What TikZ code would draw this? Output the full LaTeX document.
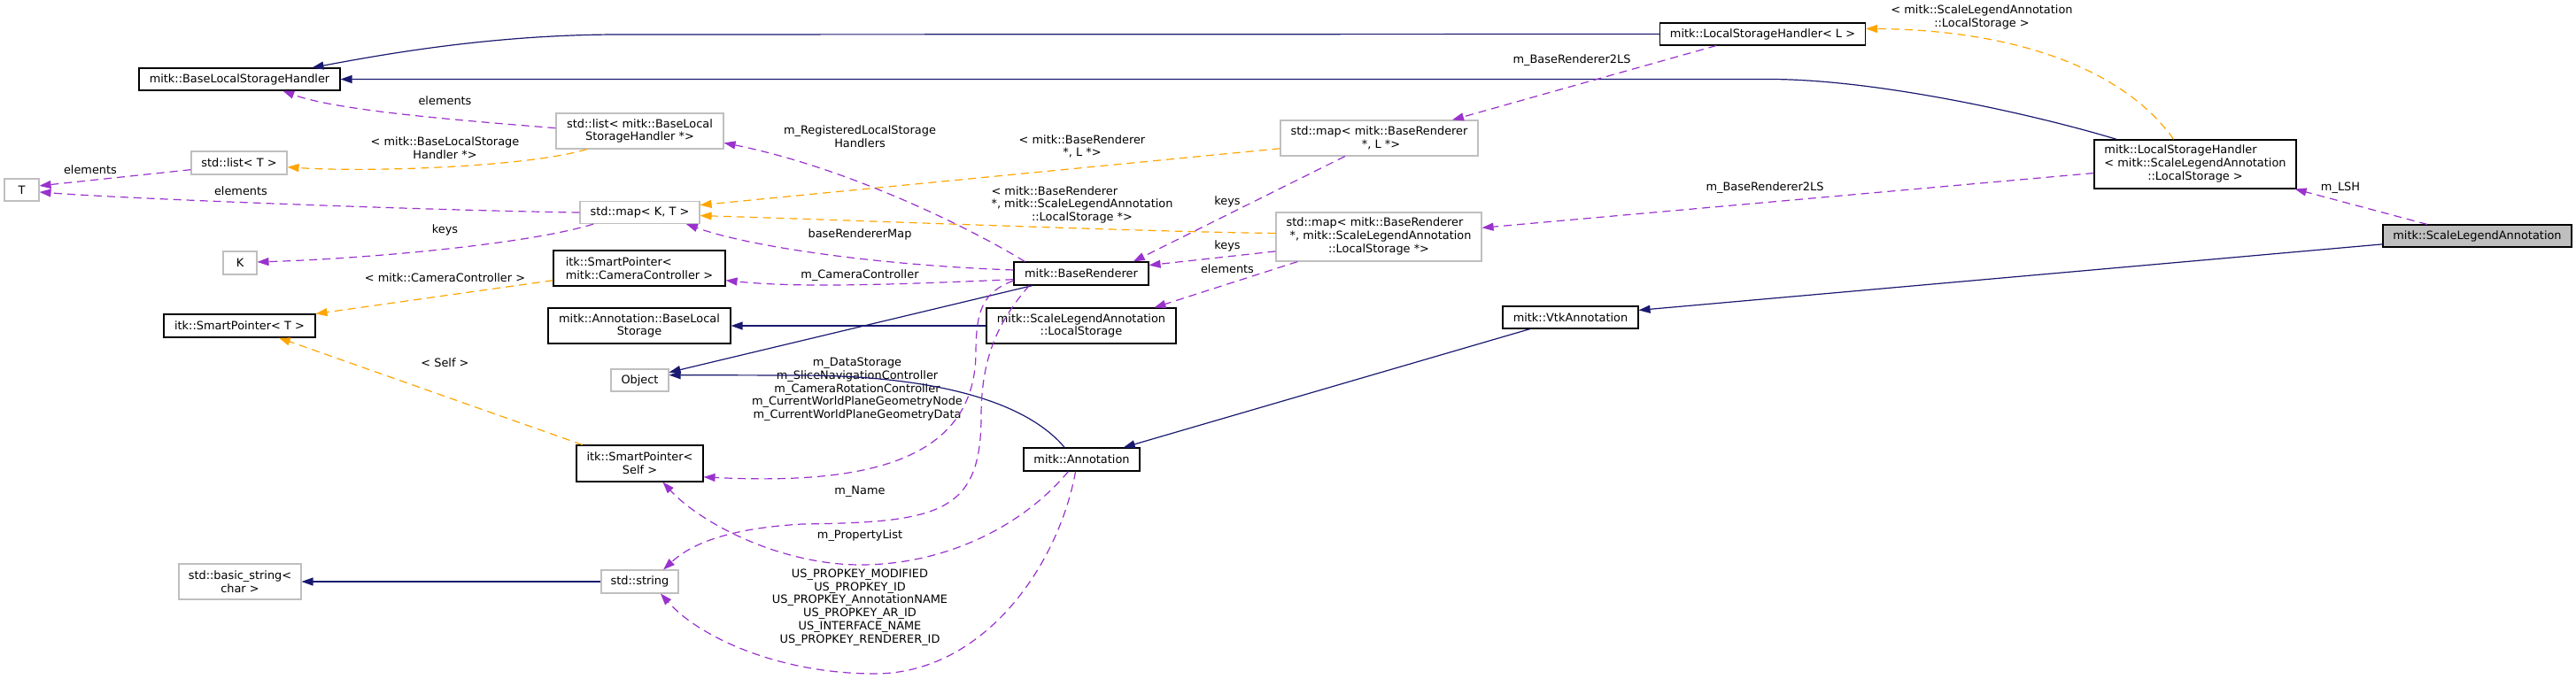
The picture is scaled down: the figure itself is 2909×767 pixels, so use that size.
\documentclass[tikz,border=0pt]{standalone}
\usepackage{fontspec}
\setmainfont{DejaVu Sans}
\usetikzlibrary{arrows.meta}
\definecolor{inhblue}{HTML}{191970}
\definecolor{usepurple}{HTML}{9A32CD}
\definecolor{tplorange}{HTML}{FFA500}
\definecolor{undocgray}{HTML}{BFBFBF}
\newcommand{\dxlast}[1]{\multicolumn{1}{@{}c@{}}{#1}}
\tikzset{
  cls/.style={draw=black,fill=white,line width=1.1pt,inner sep=0pt,align=center},
  ext/.style={cls,draw=undocgray},
  lbl/.style={inner sep=0pt,align=center},
  inh/.style={draw=inhblue,line width=1.2pt,-{Triangle[length=13pt,width=9pt]}},
  use/.style={draw=usepurple,line width=1.2pt,dash pattern=on 9pt off 6pt,-{Triangle[length=13pt,width=9pt]}},
  tpl/.style={use,draw=tplorange}
}
\begin{document}
\begin{tikzpicture}[x=1pt,y=-1pt,font={\fontsize{12.9}{14.7}\selectfont}]
\useasboundingbox[fill=white] (0,0) rectangle (2909,767);
% classes
\node [cls,minimum width=227pt,minimum height=25pt,name=blsh] at (270.5,89.5) {mitk::BaseLocalStorageHandler};
\node [cls,minimum width=232pt,minimum height=25pt,name=lshl] at (1990.5,38.5) {mitk::LocalStorageHandler< L >};
\node [ext,minimum width=189pt,minimum height=40pt,name=listblsh] at (722.5,148) {std::list< mitk::BaseLocal\\StorageHandler *>};
\node [ext,minimum width=108pt,minimum height=26pt,name=listt] at (270,184) {std::list< T >};
\node [ext,minimum width=39pt,minimum height=25pt,name=t] at (24.5,214.5) {T};
\node [ext,minimum width=135pt,minimum height=25pt,name=mapkt] at (722.5,240) {std::map< K, T >};
\node [ext,minimum width=38pt,minimum height=26pt,name=k] at (271,297) {K};
\node [cls,align=left,minimum width=194pt,minimum height=40pt,name=spcam] at (722,303) {itk::SmartPointer<\\ mitk::CameraController >};
\node [cls,minimum width=206pt,minimum height=40pt,name=annbls] at (722,368) {mitk::Annotation::BaseLocal\\Storage};
\node [cls,minimum width=171pt,minimum height=26pt,name=spt] at (270.5,368) {itk::SmartPointer< T >};
\node [ext,minimum width=65pt,minimum height=25pt,name=object] at (722.5,429.5) {Object};
\node [cls,minimum width=143pt,minimum height=41pt,name=spself] at (722.5,523.5) {itk::SmartPointer<\\Self >};
\node [ext,minimum width=87pt,minimum height=26pt,name=stdstring] at (722.5,657) {std::string};
\node [ext,minimum width=138pt,minimum height=40pt,name=basicstr] at (271,657) {std::basic\_string<\\char >};
\node [cls,minimum width=152pt,minimum height=26pt,name=br] at (1221,309) {mitk::BaseRenderer};
\node [cls,minimum width=214pt,minimum height=40pt,name=slals] at (1221,368) {mitk::ScaleLegendAnnotation\\::LocalStorage};
\node [cls,minimum width=131pt,minimum height=26pt,name=ann] at (1221.5,519) {mitk::Annotation};
\node [ext,minimum width=223pt,minimum height=40pt,name=mapbrl] at (1557.5,156) {std::map< mitk::BaseRenderer\\{} *, L *>};
\node [ext,minimum width=232pt,minimum height=55pt,name=mapbrls] at (1557,267.5) {\begin{tabular}{@{}l@{}}std::map< mitk::BaseRenderer\\{} *, mitk::ScaleLegendAnnotation\\\dxlast{::LocalStorage *>}\end{tabular}};
\node [cls,minimum width=153pt,minimum height=25pt,name=vtk] at (1773.5,358.5) {mitk::VtkAnnotation};
\node [cls,minimum width=228pt,minimum height=55pt,name=lsh] at (2479,185.5) {\begin{tabular}{@{}l@{}}mitk::LocalStorageHandler\\< mitk::ScaleLegendAnnotation\\\dxlast{::LocalStorage >}\end{tabular}};
\node [cls,fill=undocgray,minimum width=213pt,minimum height=25pt,name=sla] at (2797.5,266.5) {mitk::ScaleLegendAnnotation};
% edge labels
\node [lbl,name=lelema] at (502.5,114) {elements};
\node [lbl,name=ltpla] at (502.5,167) {< mitk::BaseLocalStorage\\Handler *>};
\node [lbl,name=lelemb] at (102,192) {elements};
\node [lbl,name=lelemc] at (272,216) {elements};
\node [lbl,name=lkeysa] at (502.5,260) {keys};
\node [lbl,name=ltplb] at (502.5,314) {< mitk::CameraController >};
\node [lbl,name=ltplc] at (502.5,410) {< Self >};
\node [lbl,name=lreg] at (971,154) {m\_RegisteredLocalStorage\\Handlers};
\node [lbl,name=ltpld] at (1222,165.5) {< mitk::BaseRenderer\\{}*, L *>};
\node [lbl,name=ltple] at (1222,232) {\begin{tabular}{@{}l@{}}< mitk::BaseRenderer\\{}*, mitk::ScaleLegendAnnotation\\\dxlast{::LocalStorage *>}\end{tabular}};
\node [lbl,name=lbrmap] at (971,265) {baseRendererMap};
\node [lbl,name=lcam] at (971,311) {m\_CameraController};
\node [lbl,name=lmembers] at (968,440) {m\_DataStorage\\m\_SliceNavigationController\\m\_CameraRotationController\\m\_CurrentWorldPlaneGeometryNode\\m\_CurrentWorldPlaneGeometryData};
\node [lbl,name=lname] at (971,555) {m\_Name};
\node [lbl,name=lprop] at (971,605) {m\_PropertyList};
\node [lbl,name=lpropkeys] at (971,686) {US\_PROPKEY\_MODIFIED\\US\_PROPKEY\_ID\\US\_PROPKEY\_AnnotationNAME\\US\_PROPKEY\_AR\_ID\\US\_INTERFACE\_NAME\\US\_PROPKEY\_RENDERER\_ID};
\node [lbl,name=lbrlsa] at (1775,68) {m\_BaseRenderer2LS};
\node [lbl,name=lkeysb] at (1386,228) {keys};
\node [lbl,name=lkeysc] at (1386,278) {keys};
\node [lbl,name=lelemd] at (1386,304) {elements};
\node [lbl,name=lbrlsb] at (1993,212) {m\_BaseRenderer2LS};
\node [lbl,name=ltplf] at (2238,19.5) {< mitk::ScaleLegendAnnotation\\::LocalStorage >};
\node [lbl,name=llsh] at (2643,212) {m\_LSH};
% inheritance
\draw[inh] (lshl.west) -- (700,39) .. controls (560,39) and (440,60) .. ([xshift=-32pt]blsh.north east);
\draw[inh] ([xshift=26pt]lsh.north west) .. controls (2300,130) and (2120,89.5) .. (1998,89.5) -- (blsh.east);
\draw[inh] ([xshift=-55pt]br.south) -- (object.15);
\draw[inh] (ann.145) .. controls (1160,455) and (1060,424) .. (900,424) -- (object.10);
\draw[inh] (slals.west) -- (annbls.east);
\draw[inh] (vtk.196) -- (ann.16);
\draw[inh] (sla.185) -- (vtk.6);
\draw[inh] (stdstring.west) -- (basicstr.east);
% templates
\draw[tpl] (listblsh.199) .. controls (600,188) and (420,195) .. (listt.-5);
\draw[tpl] (mapbrl.186) -- (mapkt.7);
\draw[tpl] (mapbrls.178) .. controls (1300,262) and (1000,250) .. (mapkt.-3);
\draw[tpl] (spcam.188) -- (spt.north east);
\draw[tpl] (spself.162) -- (spt.-17);
\draw[tpl] (lsh.131) .. controls (2400,80) and (2280,34) .. (lshl.3);
% usage
\draw[use] (listblsh.178) .. controls (520,136) and (380,125) .. (blsh.-15);
\draw[use] (listt.188) -- (t.13);
\draw[use] (mapkt.west) .. controls (500,238) and (150,225) .. (t.-7);
\draw[use] (mapkt.194) .. controls (600,275) and (420,292) .. (k.3);
\draw[use] (br.168) .. controls (1100,260) and (960,190) .. (listblsh.-8);
\draw[use] (br.177) .. controls (1000,300) and (850,280) .. (mapkt.-14);
\draw[use] (br.185) .. controls (1000,322) and (900,325) .. (spcam.-8);
\draw[use] (mapbrl.208) -- (br.13);
\draw[use] (mapbrls.188) -- (br.7);
\draw[use] (mapbrls.197) -- (slals.14);
\draw[use] (lshl.194) -- (mapbrl.14);
\draw[use] (lsh.185) -- (mapbrls.5);
\draw[use] (sla.167) -- (lsh.-14);
\draw[use] (br.186) .. controls (1110,330) and (1102,350) .. (1102,400) .. controls (1100,520) and (980,548) .. (spself.-12);
\draw[use] (br.193) .. controls (1130,360) and (1108,400) .. (1108,470) .. controls (1108,580) and (1060,590) .. (906,592) .. controls (820,597) and (780,615) .. (stdstring.27);
\draw[use] (ann.222) .. controls (1150,600) and (1060,638) .. (972,638) .. controls (880,638) and (790,590) .. (spself.-39);
\draw[use] (ann.243) .. controls (1195,640) and (1110,761) .. (988,761) .. controls (880,761) and (790,720) .. (stdstring.-30);
\end{tikzpicture}
\end{document}
